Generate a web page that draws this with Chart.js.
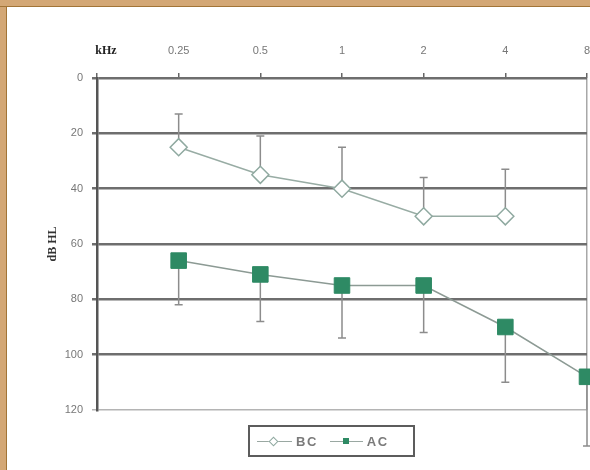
<!DOCTYPE html>
<html>
<head>
<meta charset="utf-8">
<script src="https://cdn.jsdelivr.net/npm/chart.js@4.4.1/dist/chart.umd.min.js"></script>
<style>
  body { margin: 0; background: #fff; }
  #wrap { position: relative; width: 590px; height: 470px; overflow: hidden; background: #fff; }
  #chart { position: absolute; left: 0; top: 0; }
  .frame-top { position: absolute; left: 0; top: 0; width: 590px; height: 6px; background: #d3a775; border-bottom: 1px solid #a27436; }
  .frame-left { position: absolute; left: 0; top: 0; width: 6px; height: 470px; background: #d3a775; border-right: 1px solid #a27436; }
  #legend {
    position: absolute; left: 248px; top: 425px; width: 163px; height: 28px;
    border: 2px solid #5c5c5c; display: flex; align-items: center;
    font: bold 13px "Liberation Sans", Arial, sans-serif; color: #7a7a7a; letter-spacing: 1.5px;
  }
  .item { display: flex; align-items: center; }
  .mk { position: relative; display: inline-block; height: 12px; }
  .mk .ln { position: absolute; left: 0; right: 0; top: 6px; border-top: 1px solid #9aa8a2; }
  .mk .pt { position: absolute; top: 3px; width: 6px; height: 6px; }
</style>
</head>
<body>
<div id="wrap">
  <canvas id="chart" width="590" height="470"></canvas>
  <div class="frame-left"></div>
  <div class="frame-top"></div>
  <div id="legend"></div>
</div>
<script>
// audiogram: mean thresholds with SD
const freqLabels = ['0.25', '0.5', '1', '2', '4', '8'];
const unitLabel = 'kHz';
const yTicks = [0, 20, 40, 60, 80, 100, 120];

const bcValues = [25, 35, 40, 50, 50];
const bcErrors = [12, 14, 15, 14, 17];
const acValues = [66, 71, 75, 75, 90, 108];
const acErrors = [16, 17, 19, 17, 20, 25];

const green = '#2e8a64';

// error bars drawn from the scales
const errorBars = {
  id: 'errorBars',
  beforeDatasetsDraw(chart) {
    const { ctx, scales: { x, y } } = chart;
    ctx.save();
    ctx.strokeStyle = '#8c8c8c';
    ctx.lineWidth = 1.5;
    const draw = (vals, errs, dir) => vals.forEach((v, i) => {
      const px = x.getPixelForValue(i + 1);
      const p0 = y.getPixelForValue(v);
      const p1 = y.getPixelForValue(v + dir * errs[i]);
      ctx.beginPath();
      ctx.moveTo(px, p0);
      ctx.lineTo(px, p1);
      ctx.moveTo(px - 4, p1);
      ctx.lineTo(px + 4, p1);
      ctx.stroke();
    });
    draw(bcValues, bcErrors, -1);
    draw(acValues, acErrors, 1);
    ctx.restore();
  }
};

// "kHz" unit label on the tick row
const unitText = {
  id: 'unitText',
  afterDraw(chart) {
    const { ctx, chartArea, scales: { x } } = chart;
    ctx.save();
    ctx.font = 'bold 12px "Liberation Serif", serif';
    ctx.fillStyle = '#222';
    ctx.textAlign = 'center';
    ctx.textBaseline = 'middle';
    ctx.fillText(unitLabel, x.getPixelForValue(0) + 9, chartArea.top - 27);
    ctx.restore();
  }
};

const chart = new Chart(document.getElementById('chart'), {
  type: 'line',
  data: {
    datasets: [
      {
        label: 'BC',
        data: bcValues.map((v, i) => ({ x: i + 1, y: v })),
        borderColor: '#98aca4',
        borderWidth: 1.5,
        pointStyle: 'rectRot',
        pointRadius: 8.5,
        pointBackgroundColor: '#fff',
        pointBorderColor: '#8fa9a0',
        pointBorderWidth: 1.5,
        tension: 0,
        clip: false,
      },
      {
        label: 'AC',
        data: acValues.map((v, i) => ({ x: i + 1, y: v })),
        borderColor: '#8c9a94',
        borderWidth: 1.5,
        pointStyle: 'rect',
        pointRadius: 11,
        pointBackgroundColor: green,
        pointBorderColor: green,
        pointBorderWidth: 1,
        tension: 0,
        clip: false,
      },
    ],
  },
  options: {
    responsive: false,
    animation: false,
    layout: { autoPadding: false, padding: { left: 0, top: 0, right: 3, bottom: 60 } },
    plugins: { legend: { display: false }, tooltip: { enabled: false } },
    scales: {
      x: {
        type: 'linear',
        position: 'top',
        min: 0,
        max: freqLabels.length,
        afterBuildTicks: (s) => { s.ticks = [0, ...freqLabels.map((_, i) => i + 1)].map(v => ({ value: v })); },
        ticks: {
          callback: (v) => (v >= 1 ? freqLabels[v - 1] : ''),
          color: '#777',
          font: { family: '"Liberation Sans", Arial, sans-serif', size: 11 },
          padding: 15,
          maxRotation: 0,
          autoSkip: false,
        },
        grid: {
          drawOnChartArea: true,
          color: (c) => (c.tick && c.tick.value === freqLabels.length ? '#a8a8a8' : 'rgba(0,0,0,0)'),
          tickColor: '#666',
          tickLength: 5,
          lineWidth: 1.5,
        },
        border: { display: false },
        afterFit: (s) => { s.height = 78; s.paddingLeft = 0; s.paddingRight = 0; },
      },
      y: {
        type: 'linear',
        reverse: true,
        min: yTicks[0],
        max: yTicks[yTicks.length - 1],
        afterBuildTicks: (s) => { s.ticks = yTicks.map(v => ({ value: v })); },
        ticks: {
          color: '#777',
          font: { family: '"Liberation Sans", Arial, sans-serif', size: 11 },
          padding: 9,
        },
        grid: {
          color: (c) => (c.tick && c.tick.value === 120 ? '#b4b4b4' : '#6e6e6e'),
          lineWidth: (c) => (c.tick && c.tick.value === 120 ? 1.5 : 2.5),
          tickLength: 5,
        },
        border: { color: '#555', width: 2.5 },
        title: {
          display: true,
          text: 'dB HL',
          color: '#333',
          font: { family: '"Liberation Serif", serif', size: 12, weight: 'bold' },
          padding: { top: 46, bottom: 0 },
        },
        afterFit: (s) => { s.width = 97; },
      },
    },
  },
  plugins: [errorBars, unitText],
});

// legend built from the datasets
const legend = document.getElementById('legend');
chart.data.datasets.forEach((ds, i) => {
  const item = document.createElement('div');
  item.className = 'item';
  item.style.marginLeft = i === 0 ? '7px' : '12px';
  const mk = document.createElement('span');
  mk.className = 'mk';
  mk.style.width = i === 0 ? '35px' : '33px';
  const ln = document.createElement('i');
  ln.className = 'ln';
  const pt = document.createElement('i');
  pt.className = 'pt';
  if (ds.pointStyle === 'rectRot') {
    pt.style.left = '13px';
    pt.style.background = '#fff';
    pt.style.border = '1px solid ' + ds.pointBorderColor;
    pt.style.width = '5px';
    pt.style.height = '5px';
    pt.style.transform = 'rotate(45deg)';
  } else {
    pt.style.left = '13px';
    pt.style.background = ds.pointBackgroundColor;
  }
  mk.appendChild(ln);
  mk.appendChild(pt);
  const txt = document.createElement('span');
  txt.textContent = ds.label;
  txt.style.marginLeft = '4px';
  item.appendChild(mk);
  item.appendChild(txt);
  legend.appendChild(item);
});
</script>
</body>
</html>
